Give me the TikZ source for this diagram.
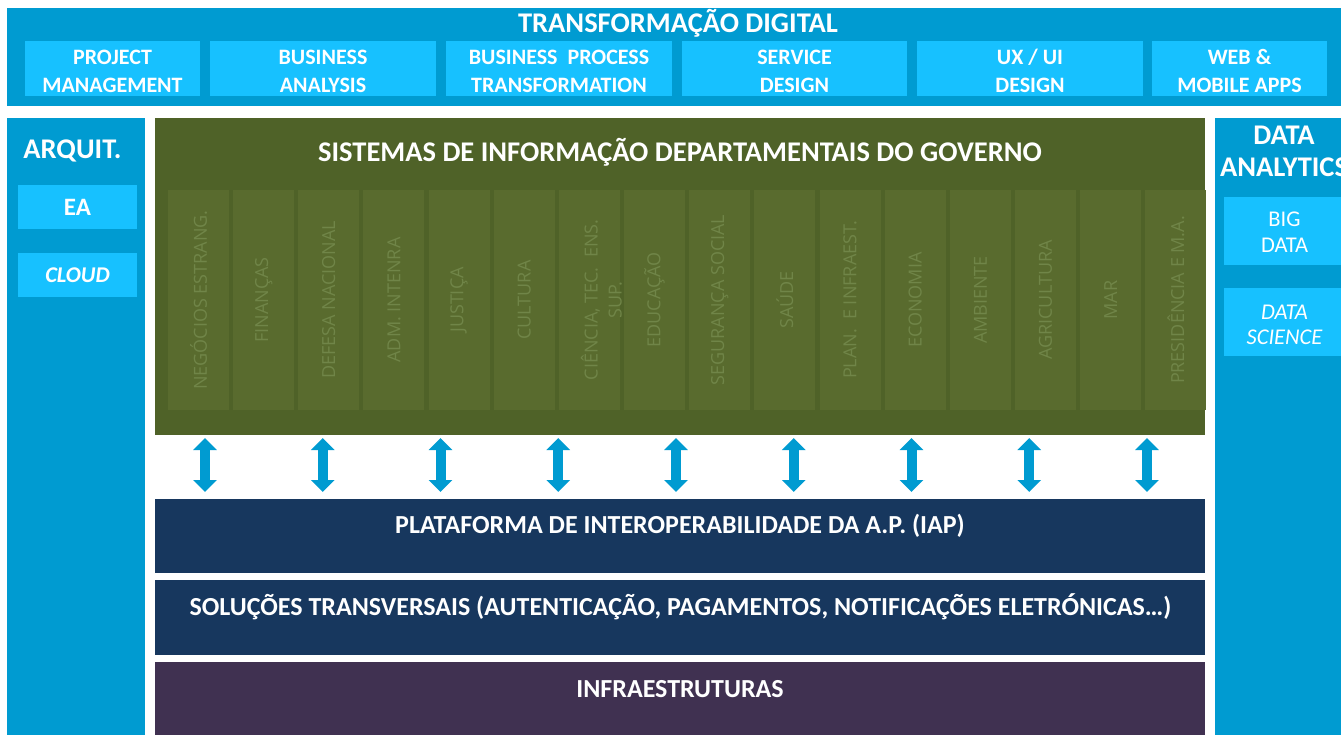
\documentclass[tikz,border=0pt]{standalone}
\usepackage{fontspec}
\setmainfont{Carlito}
\newfontfamily\deptfont{Open Sans}
\usetikzlibrary{arrows.meta,positioning}
\definecolor{bandblue}{RGB}{0,155,209}
\definecolor{tileblue}{RGB}{23,193,255}
\definecolor{olive}{RGB}{79,98,40}
\definecolor{colfill}{RGB}{89,107,46}
\definecolor{coltext}{RGB}{112,133,72}
\definecolor{navy}{RGB}{23,55,94}
\definecolor{plum}{RGB}{64,49,81}
\newcommand{\tstrut}{\rule{0pt}{20.5pt}}
\tikzset{
	block/.style={inner sep=0, draw=none},
	tile/.style={fill=tileblue, text=white, inner sep=0, align=center, font=\bfseries\fontsize{22}{27.5}\selectfont},
	caption/.style={text=white, inner sep=0, anchor=base, font=\bfseries\fontsize{26}{30}\selectfont},
	heading/.style={text=white, inner sep=0, anchor=base, align=center, font=\bfseries\fontsize{28.5}{32}\selectfont},
	dept/.style={fill=colfill, minimum width=61, minimum height=220, inner sep=0},
	deptlabel/.style={rotate=90, text=coltext, inner sep=0, align=center, font=\deptfont\fontsize{18}{24}\selectfont},
	dblarrow/.style={{Triangle[width=23pt,length=12pt]}-{Triangle[width=23pt,length=12pt]}, line width=10pt, draw=bandblue}
}
\begin{document}
\begin{tikzpicture}[x=1pt,y=-1pt]
		\useasboundingbox (0,0) rectangle (1341,734);
		%%%% transformacao digital
		\node[block,fill=bandblue,minimum width=1338,minimum height=98] (td) at (676,57) {};
		\node[heading] (tdtitle) at (678,32.7) {TRANSFORMAÇÃO DIGITAL};
		\node[tile,minimum width=175,minimum height=55] (pm) at (112.5,68.5) {\tstrut PROJECT\\MANAGEMENT};
		\node[tile,minimum width=226,minimum height=55] (ba) at (323,68.5) {\tstrut BUSINESS\\ANALYSIS};
		\node[tile,minimum width=226,minimum height=55] (bpt) at (559,68.5) {\tstrut BUSINESS\ \ PROCESS\\TRANSFORMATION};
		\node[tile,minimum width=225,minimum height=55] (sd) at (794.5,68.5) {\tstrut SERVICE\\DESIGN};
		\node[tile,minimum width=226,minimum height=55] (ux) at (1030,68.5) {\tstrut UX / UI\\DESIGN};
		\node[tile,minimum width=175,minimum height=55] (web) at (1239.5,68.5) {\tstrut WEB \&\\MOBILE APPS};
		
		%%%% arquitetura
		\node[block,fill=bandblue,minimum width=138,minimum height=620] (arq) at (76,428) {};
		\node[heading] (arqtitle) at (72.5,158.3) {ARQUIT.};
		\node[tile,minimum width=119,minimum height=44,font=\bfseries\fontsize{25}{28}\selectfont] (ea) at (77.5,207) {EA};
		\node[tile,minimum width=119,minimum height=44,font=\bfseries\itshape\fontsize{22.5}{26}\selectfont] (cloud) at (77.5,275) {CLOUD};
		
		%%%% data analytics
		\node[block,fill=bandblue,minimum width=130,minimum height=620] (da) at (1280,428) {};
		\node[heading] (datitle) at (1284,176) {DATA\\ANALYTICS};
		\node[tile,minimum width=121,minimum height=68,font=\fontsize{22.5}{25.5}\selectfont] (bigdata) at (1284.5,231) {\rule{0pt}{17pt}BIG\\DATA};
		\node[tile,minimum width=121,minimum height=68,font=\itshape\fontsize{22.5}{25.5}\selectfont] (datasci) at (1284.5,322) {\rule{0pt}{20.5pt}DATA\\SCIENCE};
		
		%%%% sistemas departamentais
		\node[block,fill=olive,minimum width=1050,minimum height=317] (sid) at (680,276.5) {};
		\node[heading] (sidtitle) at (680,161.7) {SISTEMAS DE INFORMAÇÃO DEPARTAMENTAIS DO GOVERNO};
		\foreach \lab/\dx [count=\i from 0] in {NEGÓCIOS ESTRANG./0, FINANÇAS/0, DEFESA NACIONAL/0, ADM. INTENRA/0,
			JUSTIÇA/0, CULTURA/0, {CIÊNCIA, TEC.\ \ ENS.\\SUP.}/12, EDUCAÇÃO/0, SEGURANÇA SOCIAL/0, SAÚDE/0,
			PLAN.\ \ E INFRAEST./0, ECONOMIA/0, AMBIENTE/0, AGRICULTURA/0, MAR/0, PRESIDÊNCIA E M.A./0}{
			\node[dept] (col\i) at (198.5+65.15*\i,300) {};
			\node[deptlabel] (lab\i) at ([xshift=\dx]col\i.center) {\lab};
		}
		
		%%%% camadas
		\node[block,fill=navy,minimum width=1050,minimum height=74] (iap) at (680,536) {};
		\node[caption] (iaptitle) at (680,533.3) {PLATAFORMA DE INTEROPERABILIDADE DA A.P. (IAP)};
		\node[block,fill=navy,minimum width=1050,minimum height=75] (sol) at (680,617.5) {};
		\node[caption] (soltitle) at (680.5,615) {SOLUÇÕES TRANSVERSAIS (AUTENTICAÇÃO, PAGAMENTOS, NOTIFICAÇÕES ELETRÓNICAS…)};
		\node[block,fill=plum,minimum width=1050,minimum height=76] (infra) at (680,700) {};
		\node[caption] (infratitle) at (680,697.5) {INFRAESTRUTURAS};
		
		%%%% setas
		\foreach \i in {0,...,8}{
			\coordinate (up\i) at (205+117.75*\i,438);
			\coordinate (dn\i) at (205+117.75*\i,492);
			\draw[dblarrow] (up\i) -- (dn\i);
		}
\end{tikzpicture}
\end{document}
